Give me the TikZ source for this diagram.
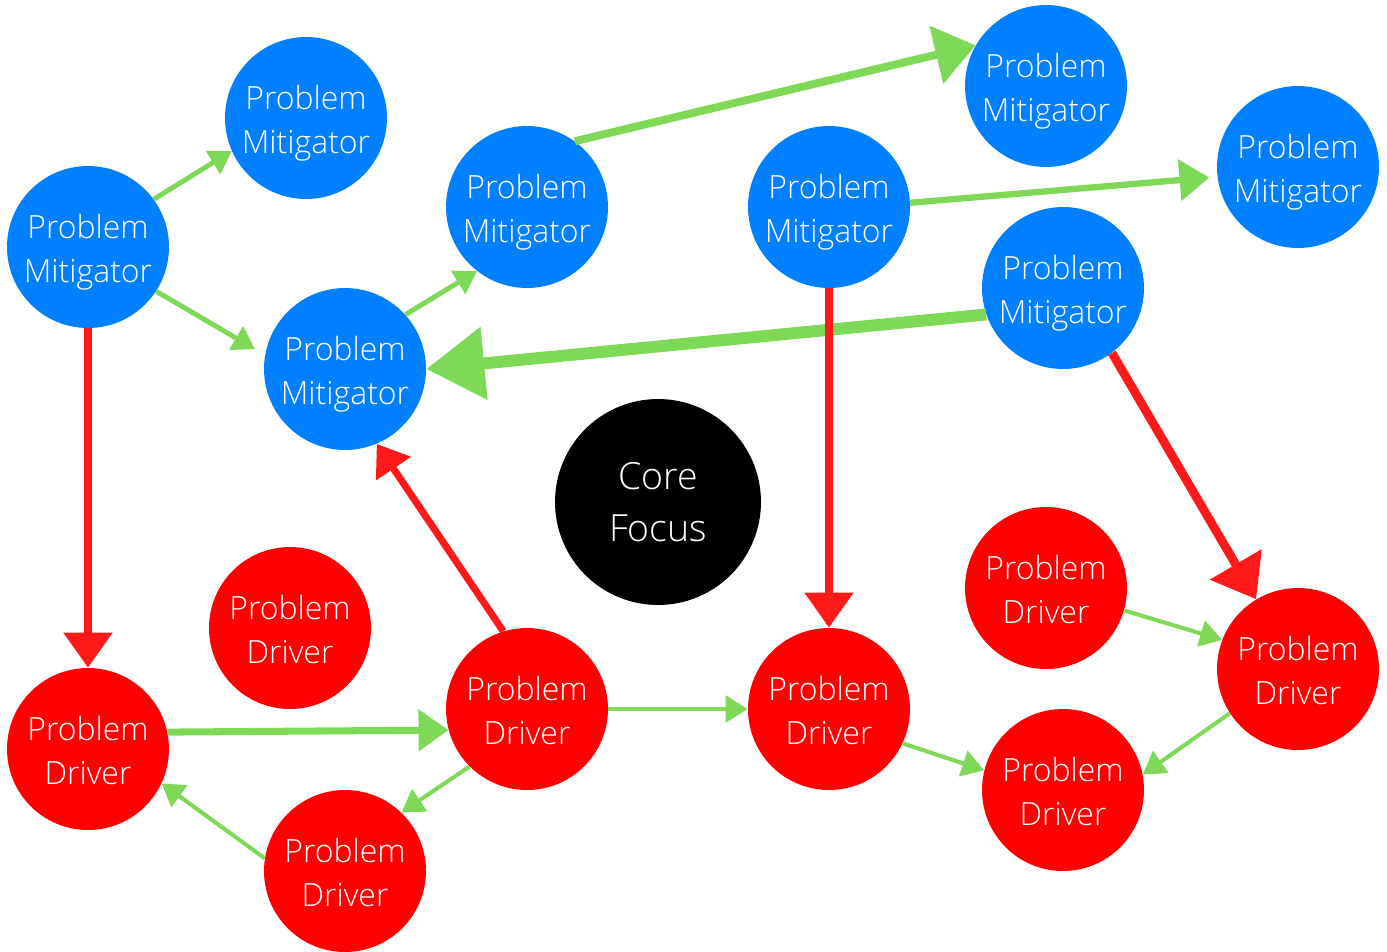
\documentclass[tikz,border=0pt]{standalone}
\usepackage{fontspec}
\setmainfont{Open Sans Light}
\usepackage{xcolor}
\usetikzlibrary{arrows.meta}
\definecolor{mitblue}{RGB}{0,128,255}
\definecolor{drvred}{RGB}{255,0,0}
\definecolor{linkred}{RGB}{255,26,26}
\definecolor{linkgreen}{RGB}{126,217,87}
\newcommand{\twoline}[2]{\raisebox{-2.5pt}[\height][\depth]{\begin{tabular}{@{}c@{}}#1\\#2\end{tabular}}}

\begin{document}
\begin{tikzpicture}[x=0.02cm,y=-0.02cm,
    mitigator/.style={circle,fill=mitblue,text=white,minimum size=3.24cm,inner sep=0pt,
      align=center,font=\fontsize{18.2}{25}\selectfont},
    driver/.style={mitigator,fill=drvred},
    core/.style={circle,fill=black,text=white,minimum size=4.12cm,inner sep=0pt,
      align=center,font=\fontsize{21.3}{29.5}\selectfont},
    good/.style={draw=linkgreen},
    bad/.style={draw=linkred},
    tipS/.style={-{Triangle[length=12.5pt,width=15pt]}},
    tipM/.style={-{Triangle[length=17pt,width=23pt]}},
    tipL/.style={-{Triangle[length=20pt,width=27pt]}},
    tipXL/.style={-{Triangle[length=23pt,width=33pt]}},
    tipXXL/.style={-{Triangle[length=33pt,width=40pt]}}]
  \useasboundingbox (0,0) rectangle (1387,951);

  % mitigators
  \node[mitigator] (m1) at (88,247)   {\twoline{Problem}{Mitigator}};
  \node[mitigator] (m2) at (306,118)  {\twoline{Problem}{Mitigator}};
  \node[mitigator] (m3) at (345,369)  {\twoline{Problem}{Mitigator}};
  \node[mitigator] (m4) at (527,207)  {\twoline{Problem}{Mitigator}};
  \node[mitigator] (m5) at (829,207)  {\twoline{Problem}{Mitigator}};
  \node[mitigator] (m6) at (1046,86)  {\twoline{Problem}{Mitigator}};
  \node[mitigator] (m7) at (1298,167) {\twoline{Problem}{Mitigator}};
  \node[mitigator] (m8) at (1063,288) {\twoline{Problem}{Mitigator}};

  \node[core] (c) at (658,502) {Core\\Focus};

  % drivers
  \node[driver] (d1) at (290,628)  {\twoline{Problem}{Driver}};
  \node[driver] (d2) at (88,749)   {\twoline{Problem}{Driver}};
  \node[driver] (d3) at (527,709)  {\twoline{Problem}{Driver}};
  \node[driver] (d4) at (345,871)  {\twoline{Problem}{Driver}};
  \node[driver] (d5) at (829,709)  {\twoline{Problem}{Driver}};
  \node[driver] (d6) at (1046,588) {\twoline{Problem}{Driver}};
  \node[driver] (d7) at (1298,669) {\twoline{Problem}{Driver}};
  \node[driver] (d8) at (1063,790) {\twoline{Problem}{Driver}};

  \path
    (m1.36)  edge[good,line width=2.8pt,tipS] (m2.204)
    (m1.327) edge[good,line width=2.8pt,tipS,shorten >=6.5pt] (m3.170)
    (m3.42)  edge[good,line width=2.8pt,tipS] (m4.232)
    (m4.54)  edge[good,line width=4.5pt,tipXL] (m6.150)
    (m5.3)   edge[good,line width=3.6pt,tipM,shorten >=4.5pt] (m7.187)
    (m8.199) edge[good,line width=6.8pt,tipXXL] (m3.0)
    (d2.12.8) edge[good,line width=4pt,tipM] (d3.195.8)
    (d3.0)   edge[good,line width=2.3pt,tipS] (d5.180)
    (d3.225) edge[good,line width=2.3pt,tipS] (d4.46)
    (d4.171) edge[good,line width=2.3pt,tipS] (d2.335)
    (d5.335) edge[good,line width=2.3pt,tipS] (d8.166)
    (d6.344) edge[good,line width=2.3pt,tipS] (d7.159)
    (d7.213) edge[good,line width=2.3pt,tipS] (d8.11);
  \path
    (m1.270) edge[bad,line width=4.5pt,tipL] (d2.90)
    (d3.107) edge[bad,line width=4pt,tipM] (m3.293)
    (m5.270) edge[bad,line width=4.3pt,tipL] (d5.90)
    (m8.307) edge[bad,line width=5pt,tipXL] (d7.121);
\end{tikzpicture}
\end{document}
